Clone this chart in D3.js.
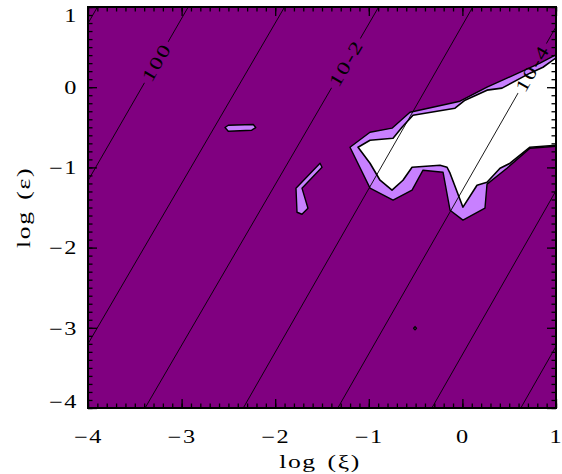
<!DOCTYPE html>
<html><head><meta charset="utf-8">
<script src="https://cdn.jsdelivr.net/npm/d3@7"></script>
<style>
body{margin:0;background:#fff}
text{font-family:"Liberation Serif","Times New Roman",serif;fill:#000}
</style>
</head><body>
<svg id="chart" width="562" height="474"></svg>
<script>
// ---------- data ----------
const xDomain = [-4, 1];
const yDomain = [-4, 1];
const xMajorTicks = [-4, -3, -2, -1, 0, 1];
const yMajorTicks = [-4, -3, -2, -1, 0, 1];
const xTitle = "log (\u03BE)";
const yTitle = "log (\u03B5)";

// filled contour regions: outer (light purple) level and inner (white) level
const regionLightMain = [[-1.201,-0.748],[-0.987,-0.561],[-0.752,-0.511],[-0.560,-0.312],[-0.026,-0.175],[0.263,0.000],[0.476,0.112],[0.829,0.299],[1.01,0.411],[1.01,-0.736],[0.722,-0.761],[0.476,-1.010],[0.263,-1.209],[0.241,-1.509],[0.006,-1.658],[-0.132,-1.534],[-0.207,-1.060],[-0.421,-1.035],[-0.538,-1.284],[-0.741,-1.409],[-0.987,-1.259]];
const regionLightSliver = [[-2.536,-0.503],[-2.501,-0.474],[-2.234,-0.465],[-2.208,-0.503],[-2.251,-0.536],[-2.501,-0.549]];
const regionLightHook = [[-1.778,-1.259],[-1.521,-0.948],[-1.500,-0.998],[-1.714,-1.259],[-1.650,-1.509],[-1.714,-1.584],[-1.767,-1.559]];
const regionLightDot = [[-0.521,-3.005],[-0.506,-2.985],[-0.491,-3.005],[-0.506,-3.025]];
const regionWhite = [[-1.115,-0.748],[-0.987,-0.661],[-0.741,-0.636],[-0.645,-0.499],[-0.528,-0.349],[-0.079,-0.262],[0.028,-0.162],[0.263,-0.037],[0.423,-0.012],[0.722,0.175],[0.861,0.249],[1.01,0.374],[1.01,-0.723],[0.722,-0.748],[0.509,-0.948],[0.402,-1.010],[0.263,-1.185],[0.156,-1.222],[0.006,-1.496],[-0.132,-1.072],[-0.164,-0.998],[-0.239,-0.973],[-0.538,-0.998],[-0.635,-1.160],[-0.752,-1.284],[-0.880,-1.160],[-0.987,-0.948]];

// line contours (decades), each as points in data space
const lineLevels = ["1e1","1e0","1e-1","1e-2","1e-3","1e-4","1e-5","1e-6"];
const linePoints = [
  [[-4.2,0.39],[-3.85,1.1]],
  [[-4.2,-1.57],[-2.88,1.1]],
  [[-4.2,-3.60],[-1.85,1.1]],
  [[-3.44,-4.1],[-0.845,1.1]],
  [[-2.39,-4.1],[0.16,1.1]],
  [[-1.38,-4.1],[1.17,1.1]],
  [[-0.375,-4.1],[2.17,1.1]],
  [[0.575,-4.1],[3.12,1.1]]
];
const lineLabelText = ["100", "10-2", "10-4"];
const lineLabelLine = [1, 3, 5];
const lineLabelY = [0.31, 0.30, 0.237];

// ---------- drawing ----------
const W = 562, H = 474;
const SX = 1.35;              // wide glyphs as in the original
const LS = 1.2;               // extra letter spacing
const m = {left: 88, right: 6, top: 7, bottom: 66};
const x = d3.scaleLinear().domain(xDomain).range([m.left, W - m.right]);
const y = d3.scaleLinear().domain(yDomain).range([H - m.bottom, m.top]);
const svg = d3.select("#chart");
const defs = svg.append("defs");
defs.append("clipPath").attr("id","plotclip").append("rect")
  .attr("x", x(xDomain[0])).attr("y", y(yDomain[1]))
  .attr("width", x(xDomain[1]) - x(xDomain[0])).attr("height", y(yDomain[0]) - y(yDomain[1]));

const PURPLE = "#800080", LIGHT = "#c880ff";

const plot = svg.append("g").attr("clip-path","url(#plotclip)");
plot.append("rect")
  .attr("x", x(xDomain[0])).attr("y", y(yDomain[1]))
  .attr("width", x(xDomain[1]) - x(xDomain[0])).attr("height", y(yDomain[0]) - y(yDomain[1]))
  .attr("fill", PURPLE);

const poly = d3.line().x(d => x(d[0])).y(d => y(d[1]));
[regionLightMain, regionLightSliver, regionLightHook, regionLightDot].forEach(r => {
  plot.append("path").attr("d", poly(r) + "Z")
    .attr("fill", LIGHT).attr("stroke","#000").attr("stroke-width",1.4).attr("stroke-linejoin","round");
});
plot.append("path").attr("d", poly(regionWhite) + "Z")
  .attr("fill", "#fff").attr("stroke","#000").attr("stroke-width",1.6).attr("stroke-linejoin","round");

// label geometry and mask for line gaps
const labelFont = 18;
const labels = lineLabelText.map((t, i) => {
  const [a, b] = linePoints[lineLabelLine[i]];
  const yy = lineLabelY[i];
  const xx = a[0] + (yy - a[1]) * (b[0] - a[0]) / (b[1] - a[1]);
  const ang = Math.atan2(y(b[1]) - y(a[1]), x(b[0]) - x(a[0])) * 180 / Math.PI;
  return {t, px: x(xx), py: y(yy), ang};
});
const mask = defs.append("mask").attr("id","gapmask").attr("maskUnits","userSpaceOnUse")
  .attr("x",0).attr("y",0).attr("width",W).attr("height",H);
mask.append("rect").attr("width",W).attr("height",H).attr("fill","#fff");
const lbl = plot.append("g");
labels.forEach(l => {
  const t = lbl.append("text").attr("transform", `translate(${l.px},${l.py}) rotate(${l.ang}) scale(${SX},1)`)
    .attr("text-anchor","middle").attr("dy","0.35em").attr("font-size", labelFont)
    .attr("letter-spacing", LS).text(l.t);
  const w = t.node().getComputedTextLength() * SX + 6;
  mask.append("rect").attr("x", -w/2).attr("y", -7).attr("width", w).attr("height", 14)
    .attr("fill","#000").attr("transform", `translate(${l.px},${l.py}) rotate(${l.ang})`);
});
const lg = plot.insert("g", () => lbl.node()).attr("mask","url(#gapmask)");
linePoints.forEach(pts => {
  lg.append("path").attr("d", poly(pts)).attr("fill","none").attr("stroke","#000").attr("stroke-width",0.9);
});

// axes with inward ticks on all four sides
const minorX = d3.range(xDomain[0], xDomain[1] + 1e-9, 0.1);
const minorY = d3.range(yDomain[0], yDomain[1] + 1e-9, 0.1);
const fmt = d3.format("d");
function styleAxis(g){ g.select(".domain").remove(); g.selectAll("line").attr("stroke","#000").attr("stroke-width",1.3); }

svg.append("g").attr("transform",`translate(0,${y(yDomain[0])})`)
  .call(d3.axisBottom(x).tickValues(minorX).tickSize(-4.5).tickFormat("")).call(styleAxis);
svg.append("g").attr("transform",`translate(0,${y(yDomain[0])})`)
  .call(d3.axisBottom(x).tickValues(xMajorTicks).tickSize(-9).tickPadding(22).tickFormat(fmt)).call(styleAxis)
  .selectAll("text").attr("font-size",18).attr("font-family",null).attr("letter-spacing",LS)
  .attr("transform",`scale(${SX},1)`);
svg.append("g").attr("transform",`translate(0,${y(yDomain[1])})`)
  .call(d3.axisTop(x).tickValues(minorX).tickSize(-4.5).tickFormat("")).call(styleAxis);
svg.append("g").attr("transform",`translate(0,${y(yDomain[1])})`)
  .call(d3.axisTop(x).tickValues(xMajorTicks).tickSize(-9).tickFormat("")).call(styleAxis);

svg.append("g").attr("transform",`translate(${x(xDomain[0])},0)`)
  .call(d3.axisLeft(y).tickValues(minorY).tickSize(-4.5).tickFormat("")).call(styleAxis);
const yl = svg.append("g").attr("transform",`translate(${x(xDomain[0])},0)`)
  .call(d3.axisLeft(y).tickValues(yMajorTicks).tickSize(-9).tickPadding(10).tickFormat(fmt)).call(styleAxis);
yl.selectAll("text").attr("font-size",18).attr("font-family",null).attr("letter-spacing",LS)
  .attr("x", -10 / SX).attr("transform",`scale(${SX},1)`)
  .attr("dy", d => d === yDomain[1] ? "0.8em" : (d === yDomain[0] ? "-0.05em" : "0.35em"));
svg.append("g").attr("transform",`translate(${x(xDomain[1])},0)`)
  .call(d3.axisRight(y).tickValues(minorY).tickSize(-4.5).tickFormat("")).call(styleAxis);
svg.append("g").attr("transform",`translate(${x(xDomain[1])},0)`)
  .call(d3.axisRight(y).tickValues(yMajorTicks).tickSize(-9).tickFormat("")).call(styleAxis);

// frame
svg.append("rect")
  .attr("x", x(xDomain[0])).attr("y", y(yDomain[1]))
  .attr("width", x(xDomain[1]) - x(xDomain[0])).attr("height", y(yDomain[0]) - y(yDomain[1]))
  .attr("fill","none").attr("stroke","#000").attr("stroke-width",2);

// titles
svg.append("text").attr("transform", `translate(${(x(xDomain[0]) + x(xDomain[1])) / 2 - 2},468) scale(${SX},1)`)
  .attr("text-anchor","middle").attr("font-size",19).attr("letter-spacing",LS).attr("word-spacing",2).text(xTitle);
svg.append("text").attr("transform", `translate(30,${(y(yDomain[0]) + y(yDomain[1])) / 2}) rotate(-90) scale(${SX},1)`)
  .attr("text-anchor","middle").attr("font-size",19).attr("letter-spacing",LS).attr("word-spacing",2).text(yTitle);
</script>
</body></html>
